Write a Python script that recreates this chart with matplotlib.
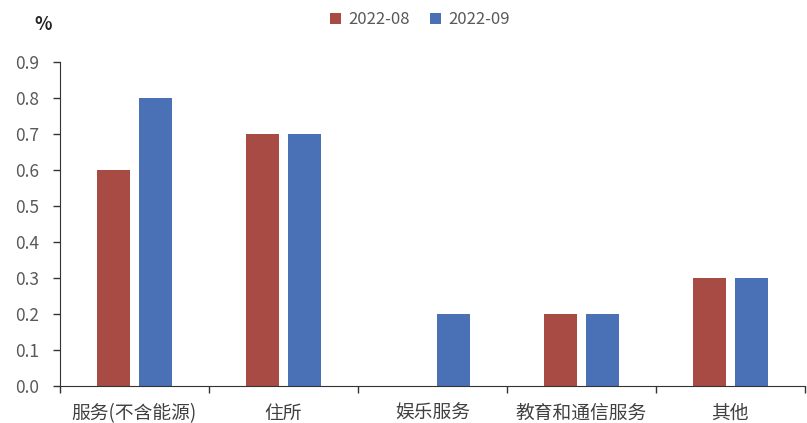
import numpy as np
import matplotlib
matplotlib.use('Agg')
import matplotlib.pyplot as plt

plt.rcParams['font.family'] = ['Noto Sans CJK SC', 'DejaVu Sans']

# 各类服务分项环比
categories = ['服务(不含能源)', '住所', '娱乐服务', '教育和通信服务', '其他']
aug = [0.6, 0.7, 0.0, 0.2, 0.3]
sep = [0.8, 0.7, 0.2, 0.2, 0.3]
series_names = ['2022-08', '2022-09']
yticks = [0.0, 0.1, 0.2, 0.3, 0.4, 0.5, 0.6, 0.7, 0.8, 0.9]

red = '#A84B45'
blue = '#4A70B5'
grey = '#595959'

fig = plt.figure(figsize=(8.07, 4.23), dpi=100)
ax = fig.add_axes([0.0743, 0.0875, 0.923, 0.766])

x = np.arange(len(categories))
w = 0.22
ax.bar(x - 0.14, aug, width=w, color=red, label=series_names[0])
ax.bar(x + 0.14, sep, width=w, color=blue, label=series_names[1])

ax.set_xlim(-0.5, len(categories) - 0.5)
ax.set_ylim(0, 0.9)
ax.set_yticks(yticks)
ax.set_yticklabels(['%.1f' % v for v in yticks], fontsize=12.5, color=grey)

# 分类刻度放在各组之间
ax.set_xticks(np.arange(len(categories) + 1) - 0.5)
ax.set_xticklabels([''] * (len(categories) + 1))
ax.set_xticks(x, minor=True)
ax.set_xticklabels(categories, minor=True, fontsize=13.5, color='#404040')
ax.tick_params(axis='x', which='minor', length=0, pad=12)
ax.tick_params(axis='x', which='major', length=5, width=1, direction='out', color='#333333')
ax.tick_params(axis='y', length=5, width=1, direction='out', color='#333333', pad=10)

for s in ['top', 'right']:
    ax.spines[s].set_visible(False)
ax.spines['left'].set_color('#333333')
ax.spines['bottom'].set_color('#333333')

fig.text(0.043, 0.942, '%', fontsize=13, fontweight='bold', color='#222222', ha='left', va='center')

leg = fig.legend(loc='center', bbox_to_anchor=(0.52, 0.953), ncol=2, frameon=False,
                 fontsize=12, handlelength=0.7, handleheight=0.7, handletextpad=0.4,
                 columnspacing=1.2)
for t in leg.get_texts():
    t.set_color(grey)

fig.savefig('out.png', dpi=100)
